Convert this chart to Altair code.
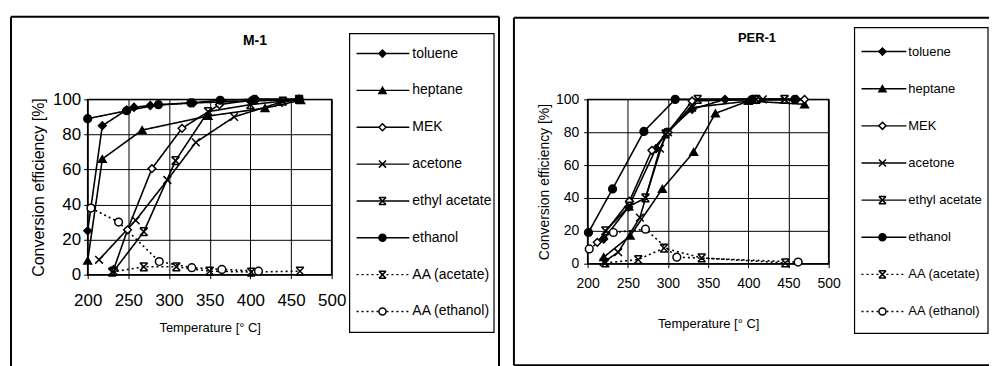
import altair as alt
import pandas as pd

SERIES = ["toluene", "heptane", "MEK", "acetone", "ethyl acetate", "ethanol",
          "AA (acetate)", "AA (ethanol)"]
X_TICKS = [200, 250, 300, 350, 400, 450, 500]
Y_TICKS = [0, 20, 40, 60, 80, 100]

# ---------------- M-1 ----------------
M1_TOLUENE_T = [200, 218, 248, 257, 277, 330, 400, 460]
M1_TOLUENE_V = [25, 85, 94, 95.5, 96.5, 98, 99, 100]
M1_HEPTANE_T = [200, 218, 267, 348, 418, 462]
M1_HEPTANE_V = [8, 66, 82.5, 90.5, 95, 99.5]
M1_MEK_T = [232, 249, 279, 316, 362, 407, 460]
M1_MEK_V = [3, 25.6, 60.5, 83.5, 97, 100, 100]
M1_ACETONE_T = [214, 259, 298, 333, 380, 435, 460]
M1_ACETONE_V = [8.5, 31, 54, 75.5, 90, 98, 100]
M1_ETAC_T = [232, 269, 308, 348, 400, 440, 460]
M1_ETAC_V = [2, 24.5, 65, 93, 97, 99, 100]
M1_ETHANOL_T = [200, 248, 287, 327, 363, 405, 460]
M1_ETHANOL_V = [89, 93.5, 97, 98, 99.5, 100, 100]
M1_AA_AC_T = [230, 269, 309, 350, 401, 461]
M1_AA_AC_V = [1.5, 4.5, 4.5, 2, 1.5, 2]
M1_AA_ET_T = [204, 238, 288, 328, 365, 410]
M1_AA_ET_V = [38, 30, 7.5, 4, 3, 2]

# ---------------- PER-1 ----------------
P1_TOLUENE_T = [220, 251, 285, 298, 330, 371, 410, 460]
P1_TOLUENE_V = [15, 34.5, 70, 80, 94, 100, 100, 100]
P1_HEPTANE_T = [220, 253, 293, 332, 359, 400, 470]
P1_HEPTANE_V = [4, 17, 45.5, 68, 91.5, 99, 97]
P1_MEK_T = [212, 252, 280, 300, 330, 410, 470]
P1_MEK_V = [13, 38, 69, 80, 99, 100, 100]
P1_ACETONE_T = [220, 238, 265, 290, 300, 330, 418, 445]
P1_ACETONE_V = [1, 7, 28, 70, 80, 95, 100, 100]
P1_ETAC_T = [222, 252, 272, 297, 337, 410, 445]
P1_ETAC_V = [20, 35, 40, 79, 100, 100, 100]
P1_ETHANOL_T = [201, 231, 270, 309, 405, 458]
P1_ETHANOL_V = [19, 45.5, 80.5, 100, 100, 100]
P1_AA_AC_T = [222, 263, 295, 342, 446]
P1_AA_AC_V = [0.5, 2.5, 9.5, 3.5, 0.5]
P1_AA_ET_T = [202, 232, 272, 311, 462]
P1_AA_ET_V = [9, 19, 21, 4, 1]

M1_DATA = [(M1_TOLUENE_T, M1_TOLUENE_V), (M1_HEPTANE_T, M1_HEPTANE_V), (M1_MEK_T, M1_MEK_V),
           (M1_ACETONE_T, M1_ACETONE_V), (M1_ETAC_T, M1_ETAC_V), (M1_ETHANOL_T, M1_ETHANOL_V),
           (M1_AA_AC_T, M1_AA_AC_V), (M1_AA_ET_T, M1_AA_ET_V)]
P1_DATA = [(P1_TOLUENE_T, P1_TOLUENE_V), (P1_HEPTANE_T, P1_HEPTANE_V), (P1_MEK_T, P1_MEK_V),
           (P1_ACETONE_T, P1_ACETONE_V), (P1_ETAC_T, P1_ETAC_V), (P1_ETHANOL_T, P1_ETHANOL_V),
           (P1_AA_AC_T, P1_AA_AC_V), (P1_AA_ET_T, P1_AA_ET_V)]

XPATH = "M-1,-1L1,1M-1,1L1,-1"
STAR = "M-1,-1L1,1M-1,1L1,-1M-1,-1L1,-1M-1,1L1,1"
SHAPES = ["diamond", "triangle-up", "diamond", XPATH, STAR, "circle", STAR, "circle"]
FILLS = ["black", "black", "white", "transparent", "transparent", "black", "transparent", "white"]
DASHES = [[1, 0]] * 6 + [[2, 3], [2, 3]]

FONT = "Liberation Sans"


def to_df(data):
    rows = []
    for s, (ts, vs) in zip(SERIES, data):
        for t, v in zip(ts, vs):
            rows.append({"series": s, "T": t, "v": v})
    return pd.DataFrame(rows)


shape_enc = alt.Shape("series:N", scale=alt.Scale(domain=SERIES, range=SHAPES), legend=None)
fill_enc = alt.Fill("series:N", scale=alt.Scale(domain=SERIES, range=FILLS), legend=None)
dash_enc = alt.StrokeDash("series:N", scale=alt.Scale(domain=SERIES, range=DASHES), legend=None)
DUMMY = pd.DataFrame({"a": [0]})


def rule(x1, x2, y1, y2, width=2, opacity=1):
    enc = dict(x=alt.value(x1), y=alt.value(y1))
    if x2 != x1:
        enc["x2"] = alt.value(x2)
    if y2 != y1:
        enc["y2"] = alt.value(y2)
    return alt.Chart(DUMMY).mark_rule(color="black", strokeWidth=width,
                                      opacity=opacity).encode(**enc)


def make_panel(data, title, p):
    df = to_df(data)
    x_enc = alt.X("T:Q", scale=alt.Scale(domain=[200, 500], nice=False, zero=False),
                  axis=alt.Axis(values=X_TICKS, title="Temperature [° C]", format="d",
                                grid=True, gridColor="black", gridOpacity=1, gridWidth=1,
                                domain=False, tickColor="black", tickSize=4,
                                labelFont=FONT, labelFontSize=p["lab_fs"], labelColor="black",
                                labelPadding=p["x_lab_pad"], labelFlush=False, labelOverlap=False,
                                titleFont=FONT, titleFontSize=13, titleFontWeight="normal",
                                titleColor="black", titlePadding=p["x_title_pad"]))
    y_enc = alt.Y("v:Q", scale=alt.Scale(domain=[0, 100], nice=False),
                  axis=alt.Axis(values=Y_TICKS, title="Conversion efficiency [%]", format="d",
                                grid=True, gridColor="black", gridOpacity=1, gridWidth=1,
                                domain=False, tickColor="black", tickSize=4,
                                labelFont=FONT, labelFontSize=p["lab_fs"], labelColor="black",
                                labelPadding=p["y_lab_pad"], labelFlush=False, labelOverlap=False,
                                titleFont=FONT, titleFontSize=p["yt_fs"], titleFontWeight="normal",
                                titleColor="black", titlePadding=p["y_title_pad"]))
    base = alt.Chart(df)
    lines = base.mark_line(color="black", strokeWidth=1.6).encode(
        x=x_enc, y=y_enc, detail="series:N", strokeDash=dash_enc)
    pts = base.mark_point(filled=False, color="black", stroke="black", strokeWidth=1.5,
                          size=60, opacity=1).encode(x=x_enc, y=y_enc, shape=shape_enc, fill=fill_enc)
    main = alt.layer(lines, pts)

    leg_df = pd.DataFrame({"series": SERIES, "idx": list(range(len(SERIES)))})
    ly = alt.Y("idx:Q", scale=alt.Scale(domain=[0, 7], range=[p["row0"], p["row7"]]), axis=None)
    lb = alt.Chart(leg_df)
    lrule = lb.mark_rule(color="black", strokeWidth=1.4).encode(
        x=alt.value(p["line_x1"]), x2=alt.value(p["line_x2"]), y=ly, strokeDash=dash_enc)
    lpts = lb.mark_point(filled=False, color="black", stroke="black", strokeWidth=1.5,
                         size=50, opacity=1).encode(x=alt.value(p["sym_x"]), y=ly,
                                                    shape=shape_enc, fill=fill_enc)
    ltext = lb.mark_text(align="left", baseline="middle", font=FONT, fontSize=p["leg_fs"],
                         color="black").encode(x=alt.value(p["text_x"]), y=ly, text="series:N")
    leg = alt.layer(lrule, lpts, ltext)

    box = alt.Chart(DUMMY).mark_rect(fill="transparent", stroke="black", strokeWidth=1.2).encode(
        x=alt.value(p["bx1"]), x2=alt.value(p["bx2"]), y=alt.value(p["by1"]), y2=alt.value(p["by2"]))
    ttl = alt.Chart(pd.DataFrame({"t": [title]})).mark_text(
        font=FONT, fontSize=p["title_fs"], fontWeight="bold", align="center", baseline="middle",
        color="black").encode(x=alt.value(p["title_x"]), y=alt.value(p["title_y"]), text="t:N")
    layers = p["frame"] + [box, ttl, main, leg]
    return alt.layer(*layers).resolve_scale(y="independent").properties(
        width=p["w"], height=p["h"])


# left frame: left / top / right sides (its bottom lies below the picture)
LEFT_FRAME = [rule(-77, -77, -83, 275), rule(-77, 413, -83, -83), rule(413, 413, -83, 275),
              rule(0, 10, -86, -86, width=1, opacity=0)]
# right frame: left / top / bottom sides (its right side lies beyond the picture)
RIGHT_FRAME = [rule(-74, -74, -82, 267), rule(-74, 403, -82, -82), rule(-74, 403, 267, 267)]

P_LEFT = dict(lab_fs=17, x_lab_pad=14, x_title_pad=13, y_lab_pad=3, y_title_pad=6, yt_fs=16,
              w=245, h=176, frame=LEFT_FRAME,
              bx1=263, bx2=408, by1=-66, by2=234, leg_fs=14,
              row0=-46, row7=213, line_x1=270, line_x2=323, sym_x=296, text_x=326,
              title_x=168, title_y=-59, title_fs=14)
P_RIGHT = dict(lab_fs=14, x_lab_pad=9, x_title_pad=27, y_lab_pad=5, y_title_pad=4, yt_fs=14,
               w=242, h=165, frame=RIGHT_FRAME,
               bx1=268, bx2=402, by1=-72, by2=235, leg_fs=13,
               row0=-48, row7=213, line_x1=275, line_x2=320, sym_x=296, text_x=322,
               title_x=170, title_y=-62, title_fs=13)

left = make_panel(M1_DATA, "M-1", P_LEFT)
right = make_panel(P1_DATA, "PER-1", P_RIGHT)

chart = alt.hconcat(left, right, spacing=11).properties(
    padding={"left": 1, "top": 4, "right": 0, "bottom": 0}
).configure_view(stroke="black", strokeWidth=1.5)

chart.save("out.html", embed_options={"renderer": "svg", "actions": False})
